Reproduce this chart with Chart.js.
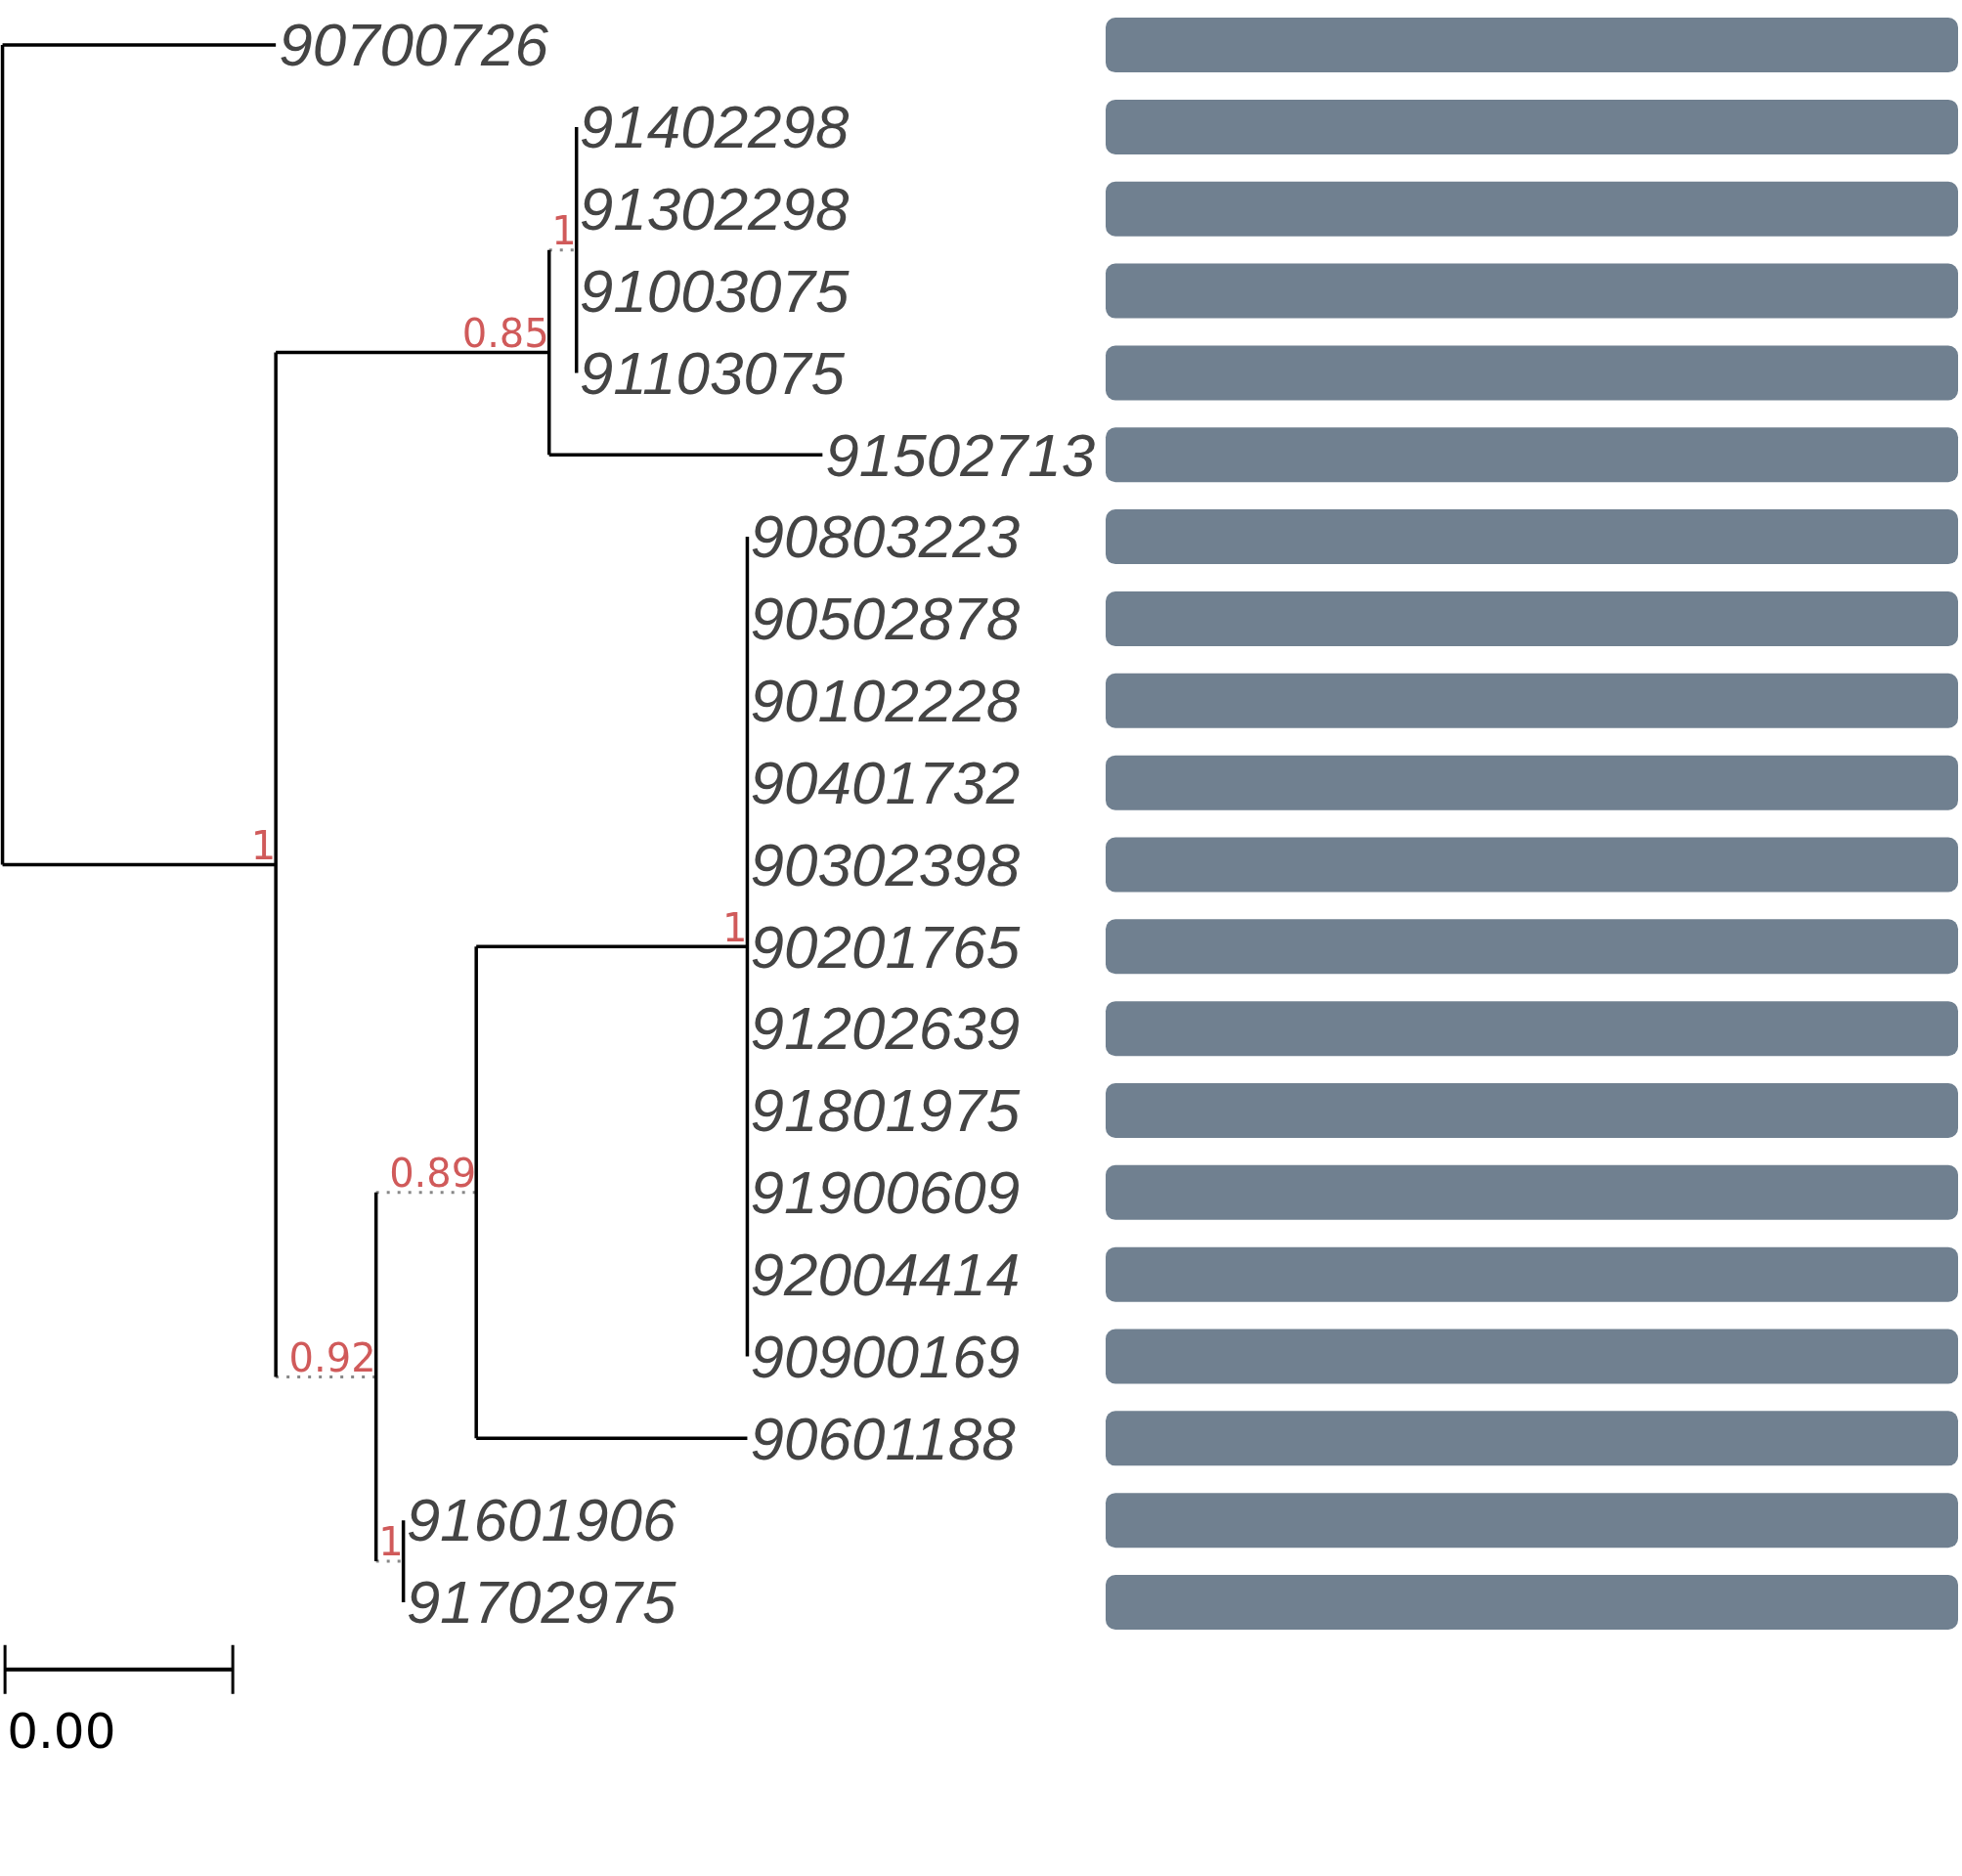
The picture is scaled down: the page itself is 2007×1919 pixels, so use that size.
<!DOCTYPE html>
<html><head><meta charset="utf-8">
<script src="https://cdn.jsdelivr.net/npm/chart.js@4.4.1/dist/chart.umd.min.js"></script>
<style>html,body{margin:0;padding:0;background:#fff;}</style>
</head><body>
<canvas id="tree" width="2007" height="1919"></canvas>
<script>
// tip labels, top to bottom (row index = position)
const tipLabels = ["90700726","91402298","91302298","91003075","91103075","91502713",
  "90803223","90502878","90102228","90401732","90302398","90201765","91202639",
  "91801975","91900609","92004414","90900169","90601188","91601906","91702975"];
// tip depth (branch length units)
const tipDepth = [1.2,2.52,2.52,2.52,2.52,3.6,3.27,3.27,3.27,3.27,3.27,3.27,3.27,3.27,3.27,3.27,3.27,3.27,1.76,1.76];
// internal nodes: name, depth, row, parent, support
const nodeNames   = ["root","A","B","C","D","E","F","G"];
const nodeDepth   = [0, 1.2, 2.4, 2.52, 1.64, 2.08, 3.27, 1.76];
const nodeRow     = [5, 10, 3.75, 2.5, 16.25, 14, 11, 18.5];
const nodeParent  = [null,"root","A","B","A","D","E","D"];
const nodeSupport = ["", "1", "0.85", "1", "0.92", "0.89", "1", "1"];
const tipParent   = ["root","C","C","C","C","B","F","F","F","F","F","F","F","F","F","F","F","E","G","G"];
// edges drawn dotted (poorly supported / short)
const dottedNodes = ["C","D","E","G"];
const scaleBarLength = 1.0;
const scaleBarLabel = "0.00";

const idx = n => nodeNames.indexOf(n);
const solid = [], dotted = [];
function addSeg(arr, pts) { pts.forEach(p => arr.push(p)); arr.push({x: null, y: null}); }
// vertical spans of internal nodes
nodeNames.forEach((n, i) => {
  const kids = [];
  tipParent.forEach((p, t) => { if (p === n) kids.push(t); });
  nodeParent.forEach((p, j) => { if (p === n) kids.push(nodeRow[j]); });
  addSeg(solid, [{x: nodeDepth[i], y: Math.min(...kids)}, {x: nodeDepth[i], y: Math.max(...kids)}]);
  if (nodeParent[i]) {
    const p = idx(nodeParent[i]);
    addSeg(dottedNodes.includes(n) ? dotted : solid,
      [{x: nodeDepth[p], y: nodeRow[i]}, {x: nodeDepth[i], y: nodeRow[i]}]);
  }
});
tipLabels.forEach((l, t) => {
  const p = idx(tipParent[t]);
  if (tipDepth[t] > nodeDepth[p]) addSeg(solid, [{x: nodeDepth[p], y: t}, {x: tipDepth[t], y: t}]);
});

const treePlugin = {
  id: "treeText",
  afterDatasetsDraw(chart) {
    const c = chart.ctx, xs = chart.scales.x, ys = chart.scales.y;
    c.save();
    // bars
    c.fillStyle = "#708090";
    tipLabels.forEach((l, t) => {
      const y = ys.getPixelForValue(t), x0 = 1131, x1 = 2003, h = 56;
      c.beginPath(); c.roundRect(x0, y - h / 2, x1 - x0, h, 10); c.fill();
    });
    // tip labels
    c.fillStyle = "#444"; c.font = "italic 62px 'Liberation Sans'";
    c.textBaseline = "middle"; c.textAlign = "left";
    tipLabels.forEach((l, t) => c.fillText(l, xs.getPixelForValue(tipDepth[t]) + 3, ys.getPixelForValue(t) + 4));
    // supports
    c.fillStyle = "#d05a5a"; c.font = "40px 'DejaVu Sans'";
    c.textAlign = "right"; c.textBaseline = "bottom";
    nodeNames.forEach((n, i) => {
      if (nodeSupport[i]) c.fillText(nodeSupport[i], xs.getPixelForValue(nodeDepth[i]), ys.getPixelForValue(nodeRow[i]) + 4);
    });
    // scale bar
    const by = ys.getPixelForValue(19.82), bx0 = xs.getPixelForValue(0.011), bx1 = xs.getPixelForValue(0.011 + scaleBarLength);
    c.strokeStyle = "#000"; c.lineWidth = 4;
    c.beginPath(); c.moveTo(bx0, by); c.lineTo(bx1, by); c.stroke();
    c.lineWidth = 3;
    c.beginPath(); c.moveTo(bx0, by - 25); c.lineTo(bx0, by + 25); c.moveTo(bx1, by - 25); c.lineTo(bx1, by + 25); c.stroke();
    c.fillStyle = "#000"; c.font = "50px 'DejaVu Sans'"; c.textAlign = "left"; c.textBaseline = "alphabetic";
    c.fillText(scaleBarLabel, bx0 + 2, by + 80);
    c.restore();
  }
};

new Chart(document.getElementById("tree"), {
  type: "scatter",
  data: { datasets: [
    { data: solid, showLine: true, spanGaps: false, borderColor: "#000", borderWidth: 3.5, pointRadius: 0 },
    { data: dotted, showLine: true, spanGaps: false, borderColor: "#888", borderWidth: 3, borderDash: [3, 8], pointRadius: 0 }
  ]},
  options: {
    responsive: false, animation: false, devicePixelRatio: 1,
    layout: { padding: 0 },
    plugins: { legend: { display: false }, tooltip: { enabled: false } },
    scales: {
      x: { type: "linear", display: false, min: -0.011, max: 8.603 },
      y: { type: "linear", display: false, reverse: true, min: -0.55, max: 22.34 }
    }
  },
  plugins: [treePlugin]
});
</script>
</body></html>
